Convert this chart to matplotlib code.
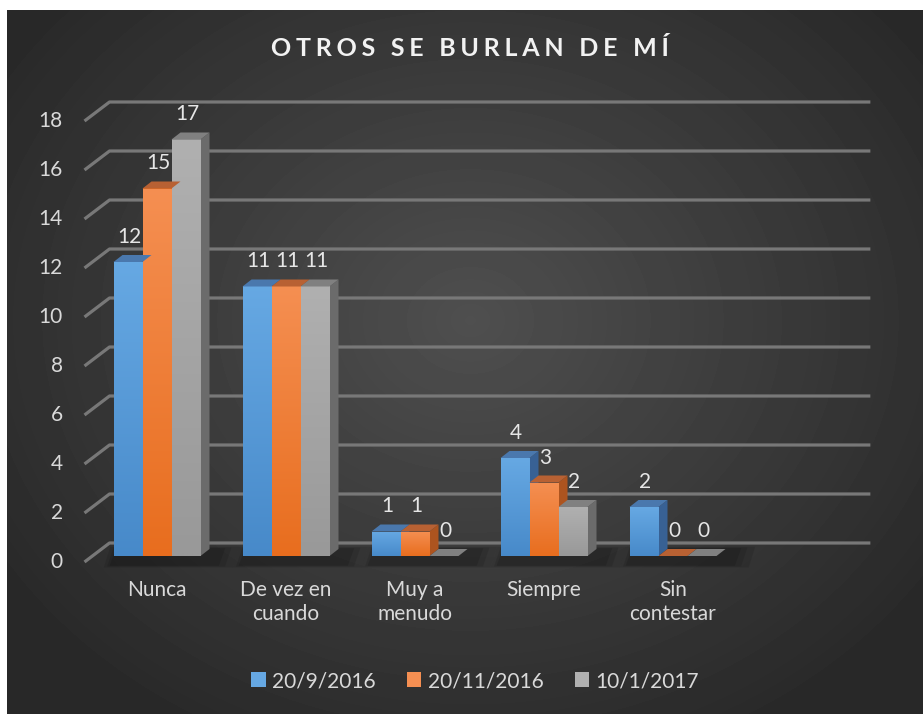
import matplotlib
matplotlib.use("Agg")
import matplotlib.pyplot as plt
import numpy as np
from matplotlib.patches import Polygon, Patch

# data
categories = ["Nunca", "De vez en\ncuando", "Muy a\nmenudo", "Siempre", "Sin\ncontestar"]
series_names = ["20/9/2016", "20/11/2016", "10/1/2017"]
s_sep2016 = [12, 11, 1, 4, 2]
s_nov2016 = [15, 11, 1, 3, 0]
s_jan2017 = [17, 11, 0, 2, 0]
yticks = list(range(0, 20, 2))
title = "OTROS SE BURLAN DE MÍ"

series = [s_sep2016, s_nov2016, s_jan2017]
# (front top, front bottom, top face, side face)
palette = [
    ((0.40, 0.66, 0.89), (0.28, 0.54, 0.79), (0.29, 0.47, 0.68), (0.22, 0.38, 0.58)),
    ((0.96, 0.56, 0.32), (0.91, 0.43, 0.12), (0.72, 0.38, 0.20), (0.68, 0.33, 0.12)),
    ((0.69, 0.69, 0.69), (0.60, 0.60, 0.60), (0.50, 0.50, 0.50), (0.42, 0.42, 0.42)),
]

W, H = 923, 714
PX_CAT, PX_VAL = 129.0, 24.5      # pixels per category / per value unit
X0, Y0 = 157.0, 556.0             # pixel of category 0, value 0 (bar plane)
FONT = ["Lato", "DejaVu Sans"]

fig = plt.figure(figsize=(W / 100, H / 100), dpi=100)
fig.patch.set_facecolor("white")

# background radial gradient (dark area with small white margin top/left)
bg = fig.add_axes([0, 0, 1, 1])
bg.set_xlim(0, W)
bg.set_ylim(H, 0)
bg.axis("off")
yy, xx = np.mgrid[10:H, 7:W]
r = np.sqrt(((xx - 470) / 560.0) ** 2 + ((yy - 320) / 470.0) ** 2)
shade = 0.31 - 0.15 * np.clip(r, 0, 1)
bg.imshow(shade, cmap="gray", vmin=0, vmax=1, extent=(7, W, H, 10),
          interpolation="bilinear", aspect="auto", zorder=0)

ax = fig.add_axes([0, 0, 1, 1])
ax.set_xlim((0 - X0) / PX_CAT, (W - X0) / PX_CAT)
ax.set_ylim((Y0 - H) / PX_VAL, Y0 / PX_VAL)
ax.axis("off")
ax.patch.set_alpha(0)

# depth offsets in data units
bdx, bdy = 9 / PX_CAT, 7 / PX_VAL          # bar depth
fdx, fdy = -8 / PX_CAT, -6 / PX_VAL        # front plane
wdx, wdy = 17 / PX_CAT, 13 / PX_VAL        # back wall
wall_right = 5.53
left = -0.5

grid_c = (0.47, 0.47, 0.47)
for v in yticks:
    ax.plot([left + fdx, left + wdx, wall_right], [v + fdy, v + wdy, v + wdy],
            color=grid_c, lw=2.3, solid_capstyle="butt", zorder=1)
    ax.text(-0.73, v + fdy, str(v), ha="right", va="center", fontsize=15,
            color="#d9d9d9", family=FONT)

width = 29 / PX_CAT
x = np.arange(len(categories))
offsets = (np.arange(len(series)) - 1) * width

# soft shadows on the floor
for i in x:
    for k, a in zip([0.30, 0.20, 0.12], [0.10, 0.10, 0.12]):
        xs0 = i - 1.5 * width - k * 0.25
        xs1 = i + 1.5 * width + bdx + k * 0.6
        ys0 = -0.35 - k * 0.4
        ys1 = bdy + k * 0.3
        ax.add_patch(Polygon([(xs0, ys0), (xs1, ys0), (xs1 + 0.05, ys1), (xs0 + 0.05, ys1)],
                             closed=True, fc="black", ec="none", alpha=a, zorder=2))

for j, vals in enumerate(series):
    ftop, fbot, ctop, cside = palette[j]
    bars = ax.bar(x + offsets[j], vals, width=width, color=fbot, zorder=5, linewidth=0)
    grad = np.linspace(0, 1, 64).reshape(-1, 1)
    for b, v in zip(bars, vals):
        x0 = b.get_x()
        x1 = x0 + b.get_width()
        if v > 0:
            cols = np.array(fbot)[None, None, :] * (1 - grad[:, :, None]) + \
                np.array(ftop)[None, None, :] * grad[:, :, None]
            im = ax.imshow(cols, extent=(x0, x1, 0, v), origin="lower",
                           aspect="auto", zorder=5.1, interpolation="bilinear")
            im.set_clip_path(b)
            ax.add_patch(Polygon([(x1, 0), (x1 + bdx, bdy), (x1 + bdx, v + bdy), (x1, v)],
                                 closed=True, fc=cside, ec="none", zorder=4))
        ax.add_patch(Polygon([(x0, v), (x1, v), (x1 + bdx, v + bdy), (x0 + bdx, v + bdy)],
                             closed=True, fc=ctop, ec="none", zorder=6))
        ax.text(x0 + width / 2 + 0.01, v + bdy + 18 / PX_VAL, str(v), ha="center",
                va="center", fontsize=15, color="#e6e6e6", family=FONT, zorder=7)

for i, c in enumerate(categories):
    ax.text(i, -1.0, c, ha="center", va="top", fontsize=15, color="#d9d9d9",
            family=FONT, linespacing=1.2)

fig.text(470 / W, 1 - 48 / H, "\u2009\u200a".join(title), ha="center", va="center",
         fontsize=18, fontweight="bold", color="#f2f2f2", family=FONT)

handles = [Patch(facecolor=palette[j][0], edgecolor="none") for j in range(3)]
leg = fig.legend(handles, series_names, loc="center", bbox_to_anchor=(475 / W, 1 - 681 / H),
                 ncol=3, frameon=False, handlelength=0.7, handleheight=0.7,
                 handletextpad=0.3, columnspacing=1.5, prop={"family": FONT, "size": 15})
for t in leg.get_texts():
    t.set_color("#d9d9d9")

fig.savefig("out.png", dpi=100, facecolor=fig.get_facecolor())
